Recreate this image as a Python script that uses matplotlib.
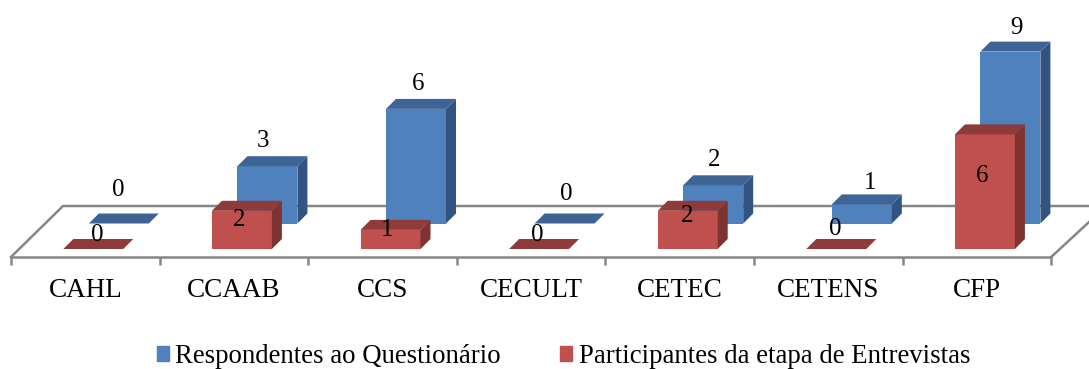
import numpy as np
import matplotlib.pyplot as plt
from matplotlib.patches import Patch

plt.rcParams['font.family'] = ['Liberation Serif', 'DejaVu Serif']

centros = ['CAHL', 'CCAAB', 'CCS', 'CECULT', 'CETEC', 'CETENS', 'CFP']
respondentes = [0, 3, 6, 0, 2, 1, 9]
participantes = [0, 2, 1, 0, 2, 0, 6]

# pixel offsets of the value labels, measured from the bar centre and top
resp_label_dx = [33, 29, 36, 35, 34, 42, 40]
resp_label_dy = [34, 25, 25, 30, 25, 21, 24]
part_label_dx = [12, 5, 5, 6, 7, 7, 5]
part_label_dy = [14, -9, 0, 14, -5, 20, -42]

LARGURA, ALTURA = 1089, 369
PX_X = 148.6   # pixels per category
PX_Y = 19.1    # pixels per unit of value
ORIGEM_X, ORIGEM_Y = 85.3, 249  # first category, base of the front row

fig = plt.figure(figsize=(LARGURA / 100, ALTURA / 100), dpi=100)
ax = fig.add_axes([0, 0, 1, 1])
ax.set_xlim(-ORIGEM_X / PX_X, (LARGURA - ORIGEM_X) / PX_X)
ax.set_ylim(-(ALTURA - ORIGEM_Y) / PX_Y, ORIGEM_Y / PX_Y)
ax.patch.set_alpha(0)

# oblique depth and bar sizes, in axis units
prof_x = 10 / PX_X
prof_y = 10 / PX_Y
larg = 60 / PX_X
chao_frente = -8 / PX_Y
chao_fundo = 43 / PX_Y
chao_dx = 52 / PX_X
cinza = '#868686'
lw_chao = 1.8


def barra3d(x, y0, valor, frente, topo, lado, z):
    x0, x1 = x - larg / 2, x + larg / 2
    y1 = y0 + valor
    if valor > 0:
        ax.fill([x0, x1, x1, x0], [y0, y0, y1, y1], color=frente, lw=0, zorder=z)
        ax.fill([x1, x1 + prof_x, x1 + prof_x, x1],
                [y0, y0 + prof_y, y1 + prof_y, y1], color=lado, lw=0, zorder=z)
    ax.fill([x0, x1, x1 + prof_x, x0 + prof_x],
            [y1, y1, y1 + prof_y, y1 + prof_y], color=topo, lw=0, zorder=z)


# floor of the 3D plot
ax.plot([-0.5, -0.5 + chao_dx, ax.get_xlim()[1]], [chao_frente, chao_fundo, chao_fundo],
        color=cinza, lw=lw_chao, zorder=1)
ax.plot([6.5, ax.get_xlim()[1]], [chao_frente, chao_frente + 35 / PX_Y],
        color=cinza, lw=lw_chao, zorder=1)

x_pos = np.arange(len(centros))
base_resp = 25.5 / PX_Y
for i in x_pos:
    barra3d(i + 33.5 / PX_X, base_resp, respondentes[i], '#4F81BD', '#3E6496', '#335480', 3)
for i in x_pos:
    barra3d(i + 8 / PX_X, 0, participantes[i], '#C0504D', '#8F3B39', '#7F3331', 4)

for i in x_pos:
    ax.annotate(str(respondentes[i]), (i, base_resp + respondentes[i]),
                xytext=(resp_label_dx[i], resp_label_dy[i]), textcoords='offset pixels',
                ha='center', va='center', fontsize=18, color='black', zorder=6)
    ax.annotate(str(participantes[i]), (i, participantes[i]),
                xytext=(part_label_dx[i], part_label_dy[i]), textcoords='offset pixels',
                ha='center', va='center', fontsize=18, color='black', zorder=6)

# category axis along the front edge of the floor
for s in ['top', 'left', 'right']:
    ax.spines[s].set_visible(False)
ax.spines['bottom'].set_position(('data', chao_frente))
ax.spines['bottom'].set_bounds(-0.5, 6.5)
ax.spines['bottom'].set_color(cinza)
ax.spines['bottom'].set_linewidth(lw_chao)
ax.spines['bottom'].set_zorder(2)
ax.set_yticks([])
ax.set_xticks(x_pos)
ax.set_xticklabels(centros, fontsize=19.5)
ax.set_xticks(np.arange(-0.5, 7), minor=True)
ax.tick_params(axis='x', which='major', length=0, pad=15)
ax.tick_params(axis='x', which='minor', length=6, width=lw_chao, color=cinza)

ax.legend(handles=[Patch(color='#4F81BD', label='Respondentes ao Questionário'),
                   Patch(color='#C0504D', label='Participantes da etapa de Entrevistas')],
          loc='lower left', bbox_to_anchor=(157 / LARGURA, 0), bbox_transform=fig.transFigure,
          ncol=2, frameon=False, fontsize=19.3, borderpad=0, borderaxespad=0,
          handlelength=0.44, handleheight=0.46, handletextpad=0.25, columnspacing=2.2)

fig.savefig('out.png', dpi=100)
